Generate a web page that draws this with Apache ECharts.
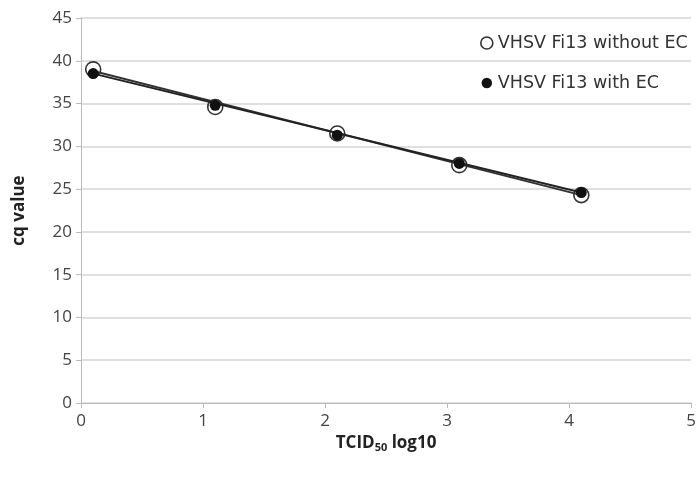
<!DOCTYPE html>
<html>
<head>
<meta charset="utf-8">
<script src="https://cdn.jsdelivr.net/npm/echarts@6/dist/echarts.min.js"></script>
<style>
  html, body { margin: 0; padding: 0; background: #fff; }
  #chart { width: 699px; height: 477px; }
</style>
</head>
<body>
<div id="chart"></div>
<script>
// x positions (TCID50 log10)
const xValues = [0.1, 1.1, 2.1, 3.1, 4.1]
// cq values
const withoutEC = [39.0, 34.6, 31.5, 27.8, 24.3]
const withEC = [38.5, 34.8, 31.3, 28.0, 24.6]
// trend line end points (x = 0.1 and x = 4.1)
const trendWithout = [38.8, 24.3]
const trendWith = [38.5, 24.6]
const trendX = [0.1, 4.1]

const pairs = (xs, ys) => xs.map((x, i) => [x, ys[i]])

const chart = echarts.init(document.getElementById('chart'))
const axisFont = { color: '#444', fontSize: 17, fontFamily: 'Open Sans' }

chart.setOption({
  animation: false,
  grid: { left: 81, right: 6, top: 18, bottom: 74 },
  legend: {
    orient: 'vertical',
    left: 475,
    top: 29,
    itemGap: 22,
    itemWidth: 12,
    itemHeight: 12,
    textStyle: { color: '#333', fontSize: 17.5, fontFamily: 'DejaVu Sans' },
    data: [
      { name: 'VHSV Fi13 without EC', icon: 'circle', itemStyle: { color: '#fff', borderColor: '#333', borderWidth: 1.6 } },
      { name: 'VHSV Fi13 with EC', icon: 'circle', itemStyle: { color: '#111', borderColor: '#fff', borderWidth: 1.5 } }
    ]
  },
  xAxis: {
    type: 'value',
    min: 0,
    max: 5,
    interval: 1,
    name: 'TCID{sub|50} log10',
    nameLocation: 'middle',
    nameGap: 30,
    nameTextStyle: {
      color: '#222', fontSize: 17, fontWeight: 'bold', fontFamily: 'Open Sans',
      rich: { sub: { fontSize: 11, fontWeight: 'bold', color: '#222', verticalAlign: 'bottom', padding: [9, 0, 0, 0] } }
    },
    axisLine: { lineStyle: { color: '#bbb' } },
    axisTick: { show: true, length: 5, lineStyle: { color: '#bbb' } },
    axisLabel: Object.assign({ margin: 10 }, axisFont),
    splitLine: { show: false }
  },
  yAxis: {
    type: 'value',
    min: 0,
    max: 45,
    interval: 5,
    name: 'cq value',
    nameLocation: 'middle',
    nameGap: 53,
    nameTextStyle: { color: '#222', fontSize: 17, fontWeight: 'bold', fontFamily: 'Open Sans' },
    axisLine: { show: true, lineStyle: { color: '#bbb' } },
    axisTick: { show: true, length: 5, lineStyle: { color: '#bbb' } },
    axisLabel: Object.assign({ margin: 9 }, axisFont),
    splitLine: { lineStyle: { color: '#d6d6d6', width: 1.5 } }
  },
  series: [
    {
      name: 'VHSV Fi13 without EC',
      type: 'scatter',
      data: pairs(xValues, withoutEC),
      symbolSize: 15,
      itemStyle: { color: '#fff', borderColor: '#333', borderWidth: 1.6, opacity: 1 },
      z: 2
    },
    {
      name: 'trend without',
      type: 'line',
      data: pairs(trendX, trendWithout),
      showSymbol: false,
      lineStyle: { color: '#333', width: 2 },
      z: 3
    },
    {
      name: 'trend with',
      type: 'line',
      data: pairs(trendX, trendWith),
      showSymbol: false,
      lineStyle: { color: '#222', width: 2 },
      z: 3
    },
    {
      name: 'VHSV Fi13 with EC',
      type: 'scatter',
      data: pairs(xValues, withEC),
      symbolSize: 11,
      itemStyle: { color: '#111', opacity: 1 },
      z: 4
    }
  ]
})
</script>
</body>
</html>
